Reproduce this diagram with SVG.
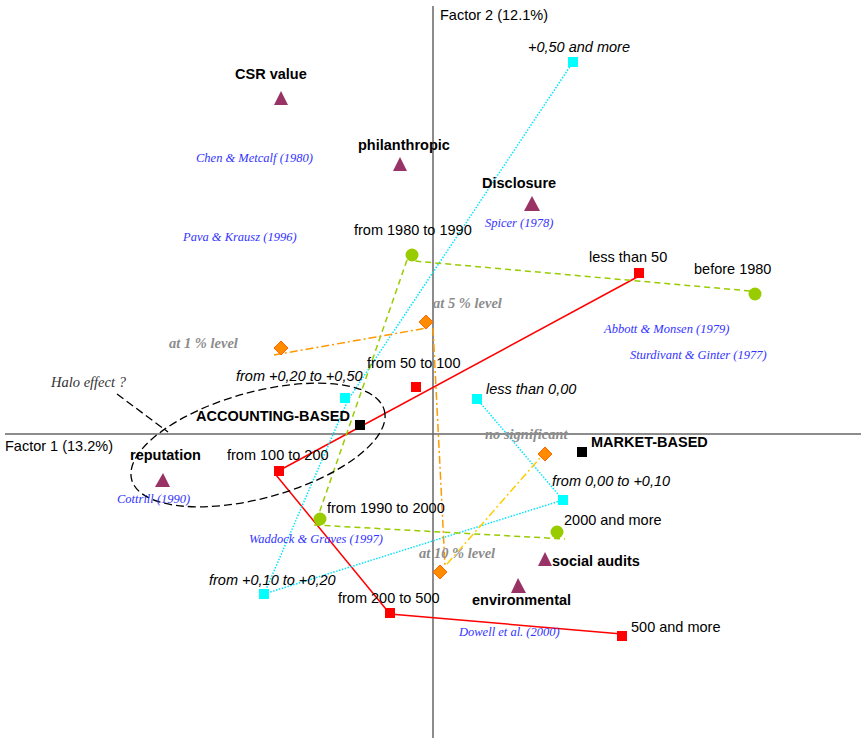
<svg xmlns="http://www.w3.org/2000/svg" width="861" height="738" viewBox="0 0 861 738">
<style>
.lbl{font-family:"Liberation Sans",Arial,sans-serif;font-size:14.5px;fill:#000}
.bold{font-family:"Liberation Sans",Arial,sans-serif;font-size:14.5px;font-weight:bold;fill:#000}
.ital{font-family:"Liberation Sans",Arial,sans-serif;font-size:14.5px;font-style:italic;fill:#000}
.ref{font-family:"Liberation Serif","Times New Roman",serif;font-size:12.5px;font-style:italic;fill:#3333ff}
.lev{font-family:"Liberation Serif","Times New Roman",serif;font-size:14.5px;font-style:italic;font-weight:bold;fill:#8c8c8c}
.halo{font-family:"Liberation Serif","Times New Roman",serif;font-size:14.5px;font-style:italic;fill:#333}
.tri{fill:#993366}
.red{fill:#ff0000}
.cyan{fill:#00ffff}
.grn{fill:#99cc00}
.blk{fill:#000}
.dia{fill:#ff8c00;stroke:#ff6600;stroke-width:1}
.axis{stroke:#666;stroke-width:1.5;fill:none}
.lred{stroke:#ff0000;stroke-width:1.5;fill:none}
.lcyan{stroke:#00e5ff;stroke-width:1.5;stroke-dasharray:1.5 1.5;fill:none}
.lgrn{stroke:#99cc00;stroke-width:1.5;stroke-dasharray:6 4;fill:none}
.lor{stroke:#ff9900;stroke-width:1.5;stroke-dasharray:8 3 2 3;fill:none}
.lyel{stroke:#ffcc00;stroke-width:1.5;stroke-dasharray:8 3 2 3;fill:none}
.halo-line{stroke:#000;stroke-width:1.3;stroke-dasharray:8 4;fill:none}
</style>
<rect width="861" height="738" fill="#fff"/>
<g id="axes">
<line class="axis" x1="433" y1="6" x2="433" y2="738"/>
<line class="axis" x1="5" y1="434" x2="861" y2="434"/>
<text class="lbl" x="440" y="20">Factor 2 (12.1%)</text>
<text class="lbl" x="5" y="451">Factor 1 (13.2%)</text>
</g>
<g id="connectors">
<polyline class="lred" points="641,275 282,469"/>
<polyline class="lred" points="276,475 390,614 622,634"/>
<polyline class="lcyan" points="573,62 348,400 264,594 563,500 477,399"/>
<polyline class="lgrn" points="750,291 414,261"/>
<polyline class="lgrn" points="407,260 315,525 565,539"/>
<polyline class="lor" points="274,355 427,328"/>
<polyline class="lor" points="433,328 445,566"/>
<polyline class="lyel" points="447,564 540,458"/>
<ellipse class="halo-line" cx="258" cy="445" rx="131" ry="53" transform="rotate(-15.4 258 445)"/>
<line class="halo-line" x1="117" y1="394" x2="168" y2="432"/>
</g>
<g id="halo-label"><text class="halo" x="51" y="387">Halo effect ?</text></g>
<g id="csr-value"><polygon class="tri" points="274,105 281,91 288,105"/><text class="bold" x="235" y="79">CSR value</text></g>
<g id="philanthropic"><polygon class="tri" points="393,171 400,157 407,171"/><text class="bold" x="358" y="150">philanthropic</text></g>
<g id="disclosure"><polygon class="tri" points="524,211 532,196 540,211"/><text class="bold" x="482" y="188">Disclosure</text></g>
<g id="reputation"><polygon class="tri" points="155,487 163,473 170,487"/><text class="bold" x="130" y="460">reputation</text></g>
<g id="social-audits"><polygon class="tri" points="538,566 545,552 552,566"/><text class="bold" x="552" y="566">social audits</text></g>
<g id="environmental"><polygon class="tri" points="511,593 518,578 526,593"/><text class="bold" x="472" y="605">environmental</text></g>
<g id="accounting-based"><rect class="blk" x="355" y="420" width="10" height="10"/><text class="bold" x="196" y="421">ACCOUNTING-BASED</text></g>
<g id="market-based"><rect class="blk" x="577" y="447" width="10" height="10"/><text class="bold" x="591" y="447">MARKET-BASED</text></g>
<g id="less-than-50"><rect class="red" x="634" y="268" width="10" height="10"/><text class="lbl" x="589" y="262">less than 50</text></g>
<g id="from-50-to-100"><rect class="red" x="411" y="382" width="10" height="10"/><text class="lbl" x="367" y="368">from 50 to 100</text></g>
<g id="from-100-to-200"><rect class="red" x="274" y="466" width="10" height="10"/><text class="lbl" x="227" y="460">from 100 to 200</text></g>
<g id="from-200-to-500"><rect class="red" x="385" y="608" width="10" height="10"/><text class="lbl" x="338" y="603">from 200 to 500</text></g>
<g id="500-and-more"><rect class="red" x="617" y="631" width="10" height="10"/><text class="lbl" x="631" y="632">500 and more</text></g>
<g id="before-1980"><circle class="grn" cx="755" cy="294" r="6.5"/><text class="lbl" x="694" y="274">before 1980</text></g>
<g id="from-1980-to-1990"><circle class="grn" cx="412" cy="255" r="6.5"/><text class="lbl" x="354" y="235">from 1980 to 1990</text></g>
<g id="from-1990-to-2000"><circle class="grn" cx="320" cy="519" r="6.5"/><text class="lbl" x="327" y="513">from 1990 to 2000</text></g>
<g id="2000-and-more"><circle class="grn" cx="557" cy="532" r="6.5"/><text class="lbl" x="564" y="525">2000 and more</text></g>
<g id="plus-050-and-more"><rect class="cyan" x="568" y="57" width="10" height="10"/><text class="ital" x="528" y="52">+0,50 and more</text></g>
<g id="from-020-to-050"><rect class="cyan" x="340" y="393" width="10" height="10"/><text class="ital" x="236" y="381">from +0,20 to +0,50</text></g>
<g id="less-than-000"><rect class="cyan" x="472" y="394" width="10" height="10"/><text class="ital" x="486" y="394">less than 0,00</text></g>
<g id="from-000-to-010"><rect class="cyan" x="558" y="495" width="10" height="10"/><text class="ital" x="552" y="486">from 0,00 to +0,10</text></g>
<g id="from-010-to-020"><rect class="cyan" x="259" y="589" width="10" height="10"/><text class="ital" x="209" y="585">from +0,10 to +0,20</text></g>
<g id="at-1-level"><polygon class="dia" points="281,341 288,348 281,355 274,348"/><text class="lev" x="169" y="348">at 1 % level</text></g>
<g id="at-5-level"><polygon class="dia" points="426,315 433,322 426,329 419,322"/><text class="lev" x="433" y="308">at 5 % level</text></g>
<g id="at-10-level"><polygon class="dia" points="440,565 447,572 440,579 433,572"/><text class="lev" x="419" y="558">at 10 % level</text></g>
<g id="no-significant"><polygon class="dia" points="545,447 552,454 545,461 538,454"/><text class="lev" x="485" y="439">no significant</text></g>
<g id="references">
<text class="ref" x="196" y="162">Chen &amp; Metcalf (1980)</text>
<text class="ref" x="183" y="241">Pava &amp; Krausz (1996)</text>
<text class="ref" x="485" y="227">Spicer (1978)</text>
<text class="ref" x="604" y="333">Abbott &amp; Monsen (1979)</text>
<text class="ref" x="630" y="359">Sturdivant &amp; Ginter (1977)</text>
<text class="ref" x="117" y="503">Cottrill (1990)</text>
<text class="ref" x="249" y="543">Waddock &amp; Graves (1997)</text>
<text class="ref" x="459" y="636">Dowell et al. (2000)</text>
</g>
</svg>
